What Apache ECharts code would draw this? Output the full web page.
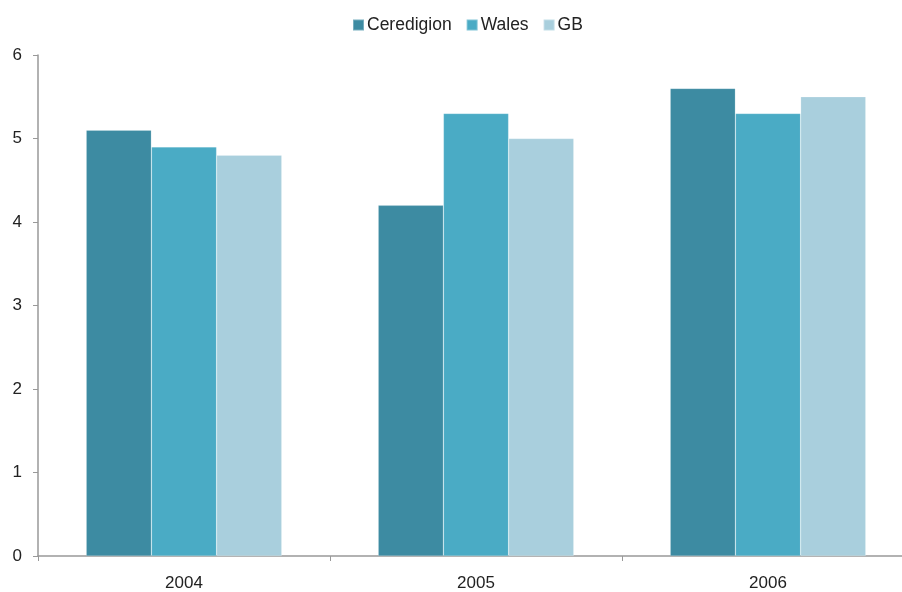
<!DOCTYPE html>
<html>
<head>
<meta charset="utf-8">
<script src="https://cdn.jsdelivr.net/npm/echarts@6/dist/echarts.min.js"></script>
<style>
  html, body { margin: 0; padding: 0; background: #fff; overflow: hidden; }
  #chart { width: 916px; height: 592px; }
</style>
</head>
<body>
<div id="chart"></div>
<script>
// Years on the category axis
const years = ['2004', '2005', '2006'];
// Values per area
const ceredigion = [5.1, 4.2, 5.6];
const wales = [4.9, 5.3, 5.3];
const gb = [4.8, 5.0, 5.5];
// Value axis ticks
const yMin = 0, yMax = 6, yStep = 1;

const colors = ['#3d8ba2', '#4aabc5', '#a9cfdd'];
const font = 'Liberation Sans, Arial, sans-serif';

// The plot runs slightly past the right edge of the visible page
const chart = echarts.init(document.getElementById('chart'), null, { renderer: 'canvas' });

function bar(name, data, color) {
  return {
    name, type: 'bar', data,
    barGap: '0%', barCategoryGap: '33%',
    itemStyle: { color, borderColor: 'rgba(255,255,255,0.3)', borderWidth: 0.6 },
    emphasis: { disabled: true }
  };
}

chart.setOption({
  animation: false,
  color: colors,
  legend: {
    top: 11, left: 347,
    itemWidth: 11, itemHeight: 11, itemGap: 14,
    icon: 'rect',
    textStyle: { fontFamily: font, fontSize: 17.5, color: '#222', padding: [0, 0, 0, -2] },
    data: ['Ceredigion', 'Wales', 'GB']
  },
  grid: { left: 38, top: 55, width: 876, height: 503, containLabel: false },
  xAxis: {
    type: 'category', data: years,
    axisLine: { lineStyle: { color: '#999', width: 1.5 } },
    axisTick: { show: true, length: 5, lineStyle: { color: '#999' } },
    axisLabel: { fontFamily: font, fontSize: 17, color: '#222', margin: 19 }
  },
  yAxis: {
    type: 'value', min: yMin, max: yMax, interval: yStep,
    splitLine: { show: false },
    axisLine: { show: true, lineStyle: { color: '#999', width: 1.5 } },
    axisTick: { show: true, length: 5, lineStyle: { color: '#999' } },
    axisLabel: { fontFamily: font, fontSize: 17, color: '#222', margin: 16 }
  },
  series: [
    bar('Ceredigion', ceredigion, colors[0]),
    bar('Wales', wales, colors[1]),
    bar('GB', gb, colors[2])
  ]
});
</script>
</body>
</html>
